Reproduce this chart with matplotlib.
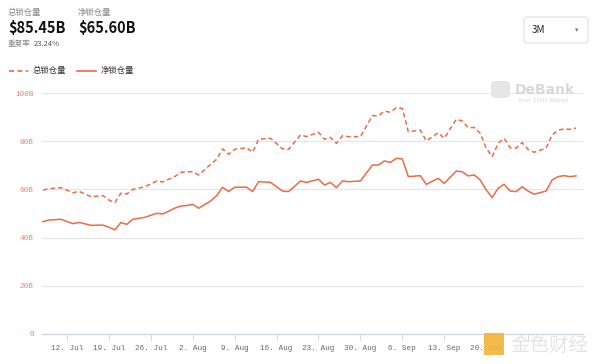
import matplotlib.pyplot as plt
import matplotlib.patches as patches
import pandas as pd

plt.rcParams['font.family'] = ['Noto Sans CJK SC', 'DejaVu Sans']

# values in billions USD
dates = ['2021-07-08', '2021-07-09', '2021-07-11', '2021-07-13', '2021-07-14', '2021-07-16',
         '2021-07-18', '2021-07-19', '2021-07-20', '2021-07-21', '2021-07-22', '2021-07-23',
         '2021-07-25', '2021-07-27', '2021-07-28', '2021-07-30', '2021-07-31', '2021-08-01',
         '2021-08-02', '2021-08-03', '2021-08-05', '2021-08-06', '2021-08-07', '2021-08-08',
         '2021-08-09', '2021-08-11', '2021-08-12', '2021-08-13', '2021-08-15', '2021-08-17',
         '2021-08-18', '2021-08-20', '2021-08-21', '2021-08-23', '2021-08-24', '2021-08-25',
         '2021-08-26', '2021-08-27', '2021-08-28', '2021-08-30', '2021-09-01', '2021-09-02',
         '2021-09-03', '2021-09-04', '2021-09-05', '2021-09-06', '2021-09-07', '2021-09-09',
         '2021-09-10', '2021-09-12', '2021-09-13', '2021-09-15', '2021-09-16', '2021-09-17',
         '2021-09-18', '2021-09-19', '2021-09-20', '2021-09-21', '2021-09-22', '2021-09-23',
         '2021-09-24', '2021-09-25', '2021-09-26', '2021-09-27', '2021-09-28', '2021-09-30',
         '2021-10-01', '2021-10-02', '2021-10-03', '2021-10-04', '2021-10-05']
total_tvl = [59.7, 60.3, 60.7, 58.6, 59.2, 57.0,
             57.4, 55.6, 54.5, 58.4, 58.1, 60.0,
             61.1, 63.5, 63.1, 65.3, 67.1, 67.3,
             67.3, 66.0, 70.4, 72.5, 76.8, 74.6,
             76.6, 77.3, 75.4, 80.8, 81.2, 76.8,
             76.6, 82.6, 81.9, 83.7, 80.8, 81.6,
             79.1, 82.3, 81.9, 81.9, 90.6, 90.5,
             92.5, 92.0, 93.9, 93.6, 83.9, 84.6,
             80.1, 83.5, 81.2, 89.1, 88.4, 85.6,
             85.7, 83.3, 77.1, 73.6, 79.1, 81.2,
             77.3, 77.1, 79.4, 76.6, 75.4, 77.1,
             82.6, 84.6, 85.1, 84.9, 85.45]
net_tvl = [46.6, 47.3, 47.6, 45.8, 46.3, 45.1,
           45.2, 44.3, 43.2, 46.2, 45.5, 47.6,
           48.4, 50.1, 49.8, 52.2, 53.1, 53.3,
           53.8, 52.2, 55.2, 57.4, 60.9, 59.1,
           60.9, 60.9, 59.1, 63.2, 62.9, 59.3,
           59.1, 63.5, 62.9, 64.2, 61.8, 62.9,
           60.7, 63.5, 63.2, 63.5, 70.1, 70.1,
           71.8, 71.2, 72.9, 72.6, 65.3, 65.7,
           62.1, 64.6, 62.5, 67.6, 67.3, 65.6,
           66.0, 63.9, 59.8, 56.6, 60.5, 62.1,
           59.3, 59.1, 61.1, 59.3, 58.0, 59.3,
           63.9, 65.3, 65.7, 65.3, 65.6]
y_ticks = [0, 20, 40, 60, 80, 100]
y_labels = ['0', '20B', '40B', '60B', '80B', '100B']
x_ticks = ['2021-07-12', '2021-07-19', '2021-07-26', '2021-08-02', '2021-08-09', '2021-08-16',
           '2021-08-23', '2021-08-30', '2021-09-06', '2021-09-13', '2021-09-20', '2021-09-27']
# last label sits under the watermark in the original
x_labels = ['12. Jul', '19. Jul', '26. Jul', '2. Aug', '9. Aug', '16. Aug',
            '23. Aug', '30. Aug', '6. Sep', '13. Sep', '20. Sep', '']

line_color = '#ef6a45'
W, H = 600, 364


def fx(px):
    return px / W


def fy(py):
    return 1 - py / H


x = pd.to_datetime(dates)

fig = plt.figure(figsize=(6, 3.64), dpi=100)
ax = fig.add_axes([fx(42), fy(334), fx(583) - fx(42), fy(93) - fy(334)])

ax.plot(x, total_tvl, color=line_color, lw=1.1, ls=(0, (3, 2)))
ax.plot(x, net_tvl, color=line_color, lw=1.1)

ax.set_ylim(0, 100)
ax.set_yticks(y_ticks)
ax.set_yticklabels(y_labels)
ax.set_xlim(pd.Timestamp('2021-07-07 20:00'), pd.Timestamp('2021-10-06 04:00'))
ax.set_xticks(pd.to_datetime(x_ticks))
ax.set_xticklabels(x_labels)

ax.grid(axis='y', color='#e6e6e6', lw=0.8)
ax.set_axisbelow(True)
for s in ['top', 'right', 'left']:
    ax.spines[s].set_visible(False)
ax.spines['bottom'].set_color('#ccd6eb')
ax.spines['bottom'].set_linewidth(0.8)
ax.tick_params(axis='y', length=0, pad=6, labelsize=5.5, labelcolor='#e8836b')
ax.tick_params(axis='x', length=5, width=0.6, color='#ccd6eb', pad=3,
               labelsize=5.5, labelcolor='#666666')
for lab in ax.get_xticklabels() + ax.get_yticklabels():
    lab.set_family('Liberation Mono')

# header
fig.text(fx(8), fy(13), '总锁仓量', fontsize=6, color='#888888', va='center')
fig.text(fx(8), fy(28), '$85.45B', fontsize=10.5, color='#111111', weight='bold', va='center')
fig.text(fx(78), fy(13), '净锁仓量', fontsize=6, color='#888888', va='center')
fig.text(fx(78), fy(28), '$65.60B', fontsize=10.5, color='#111111', weight='bold', va='center')
fig.text(fx(8), fy(44), '重复率', fontsize=5.5, color='#888888', va='center')
fig.text(fx(34), fy(44), '23.24%', fontsize=5.5, color='#555555', va='center')

# legend
fig.add_artist(plt.Line2D([fx(9), fx(28)], [fy(71), fy(71)], color=line_color,
                          lw=1.2, ls=(0, (3, 2))))
fig.text(fx(33), fy(71), '总锁仓量', fontsize=6, color='#333333', va='center')
fig.add_artist(plt.Line2D([fx(77), fx(96)], [fy(71), fy(71)], color=line_color, lw=1.2))
fig.text(fx(101), fy(71), '净锁仓量', fontsize=6, color='#333333', va='center')

# range selector
box = patches.FancyBboxPatch((fx(524), fy(43)), fx(588) - fx(524), fy(17) - fy(43),
                             boxstyle='round,pad=0,rounding_size=0.005',
                             transform=fig.transFigure, fc='white', ec='#dddddd', lw=0.7)
fig.add_artist(box)
fig.text(fx(532), fy(30), '3M', fontsize=7, color='#222222', va='center')
fig.text(fx(577), fy(30), '▾', fontsize=5, color='#777777', va='center', ha='center',
         family='DejaVu Sans')

# DeBank watermark
fig.text(fx(515), fy(90), 'DeBank', fontsize=10, color='#d9d9d9', weight='bold',
         va='center', family='DejaVu Sans')
fig.text(fx(518), fy(100), 'Your DeFi Wallet', fontsize=4.5, color='#d9d9d9',
         va='center', family='DejaVu Sans')
fig.add_artist(patches.FancyBboxPatch((fx(491), fy(98)), fx(19), fy(81) - fy(98),
                                      boxstyle='round,pad=0,rounding_size=0.01',
                                      transform=fig.transFigure, fc='#e6e6e6', ec='none'))

# source watermark
fig.add_artist(patches.Rectangle((fx(484), fy(355)), fx(20), fy(333) - fy(355),
                                 transform=fig.transFigure, fc='#f2b437', ec='none', alpha=0.9))
fig.text(fx(510), fy(345), '金色财经', fontsize=14, color='#e4e4e4', va='center')

fig.savefig('out.png', dpi=100)
